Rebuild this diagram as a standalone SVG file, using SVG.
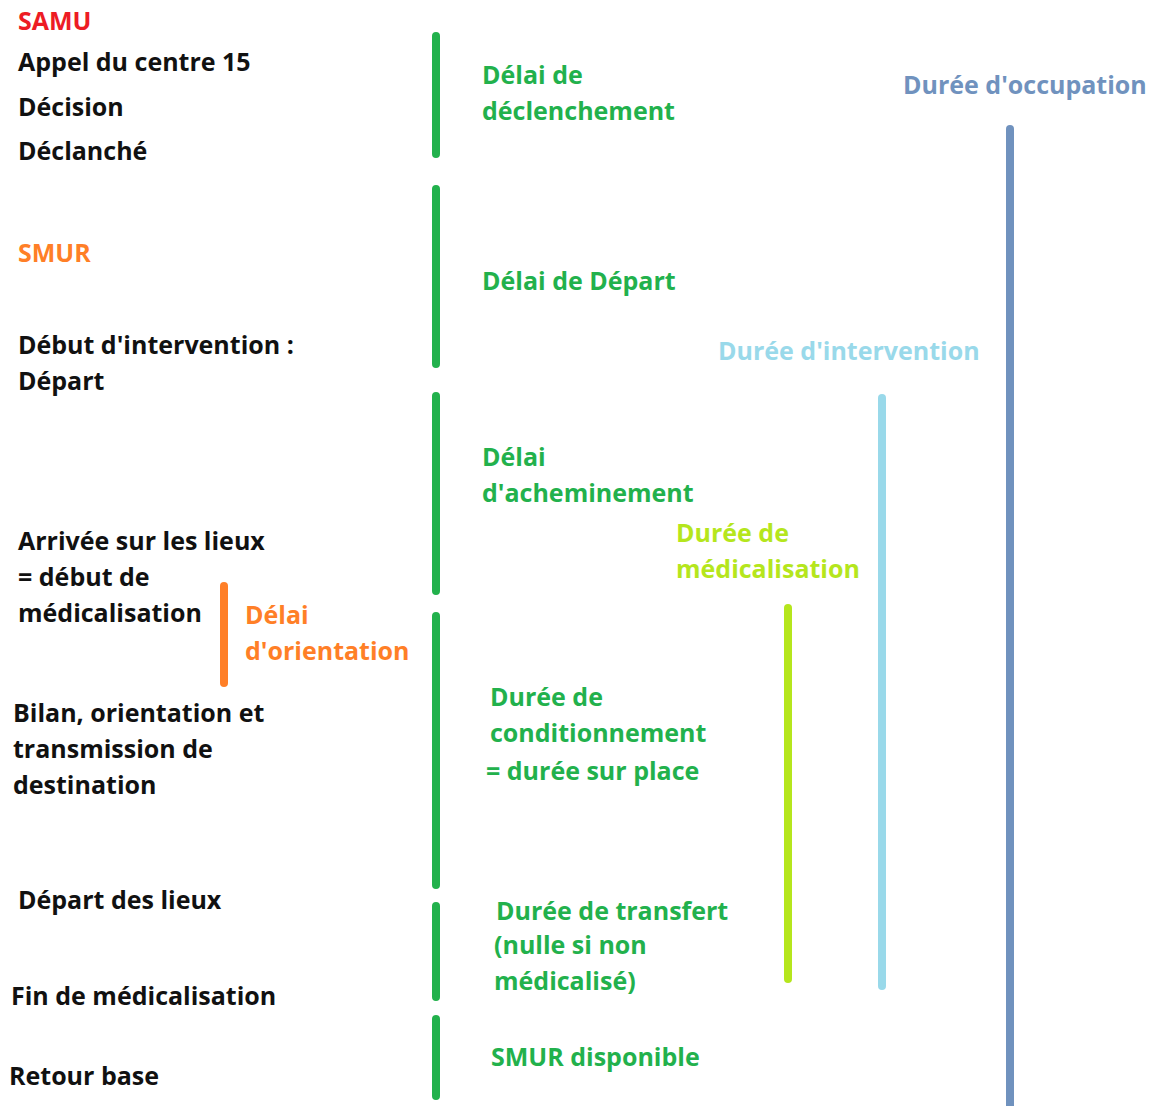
<svg xmlns="http://www.w3.org/2000/svg" width="1154" height="1106" viewBox="0 0 1154 1106">
<style>
text{font-family:"Open Sans","Noto Sans","Liberation Sans",sans-serif;font-weight:bold;font-size:25px}
.k{fill:#111}
.g{fill:#22b14c}
.o{fill:#ff7f27}
.r{fill:#ed1c24}
.lb{fill:#99d9ea}
.bg{fill:#7092be}
.yg{fill:#b5e61d}
.bar{fill:none;stroke-width:8;stroke-linecap:round}
</style>
<rect width="1154" height="1106" fill="#fff"/>
<g id="labels-left">
<text class="r" x="18" y="30">SAMU</text>
<text class="k" x="18" y="71">Appel du centre 15</text>
<text class="k" x="18" y="116">Décision</text>
<text class="k" x="18" y="160">Déclanché</text>
<text class="o" x="18" y="262">SMUR</text>
<text class="k" x="18" y="354">Début d'intervention :</text>
<text class="k" x="18" y="390">Départ</text>
<text class="k" x="18" y="550">Arrivée sur les lieux</text>
<text class="k" x="18" y="586">= début de</text>
<text class="k" x="18" y="622">médicalisation</text>
<text class="k" x="13" y="722">Bilan, orientation et</text>
<text class="k" x="13" y="758">transmission de</text>
<text class="k" x="13" y="794">destination</text>
<text class="k" x="18" y="909">Départ des lieux</text>
<text class="k" x="11" y="1005">Fin de médicalisation</text>
<text class="k" x="9" y="1085">Retour base</text>
</g>
<g id="node-declenchement"><text class="g" x="482" y="84">Délai de</text><text class="g" x="482" y="120">déclenchement</text></g>
<g id="node-depart"><text class="g" x="482" y="290">Délai de Départ</text></g>
<g id="node-acheminement"><text class="g" x="482" y="466">Délai</text><text class="g" x="482" y="502">d'acheminement</text></g>
<g id="node-conditionnement"><text class="g" x="490" y="706">Durée de</text><text class="g" x="490" y="742">conditionnement</text><text class="g" x="486" y="780">= durée sur place</text></g>
<g id="node-transfert"><text class="g" x="496" y="920">Durée de transfert</text><text class="g" x="494" y="954">(nulle si non</text><text class="g" x="494" y="990">médicalisé)</text></g>
<g id="node-disponible"><text class="g" x="491" y="1066">SMUR disponible</text></g>
<g id="node-orientation"><text class="o" x="245" y="624">Délai</text><text class="o" x="245" y="660">d'orientation</text></g>
<g id="node-medicalisation"><text class="yg" x="676" y="542">Durée de</text><text class="yg" x="676" y="578">médicalisation</text></g>
<g id="node-intervention"><text class="lb" x="718" y="360">Durée d'intervention</text></g>
<g id="node-occupation"><text class="bg" x="903" y="94">Durée d'occupation</text></g>
<g id="connectors">
<path class="bar" stroke="#22b14c" d="M436 36V154M436 189V364M436 396V591M436 616V885M436 906V997M436 1019V1096"/>
<path class="bar" stroke="#ff7f27" d="M224 586V683"/>
<path class="bar" stroke="#b5e61d" d="M788 608V979"/>
<path class="bar" stroke="#99d9ea" d="M882 398V986"/>
<path class="bar" stroke="#7092be" d="M1010 129V1110"/>
</g>
</svg>
